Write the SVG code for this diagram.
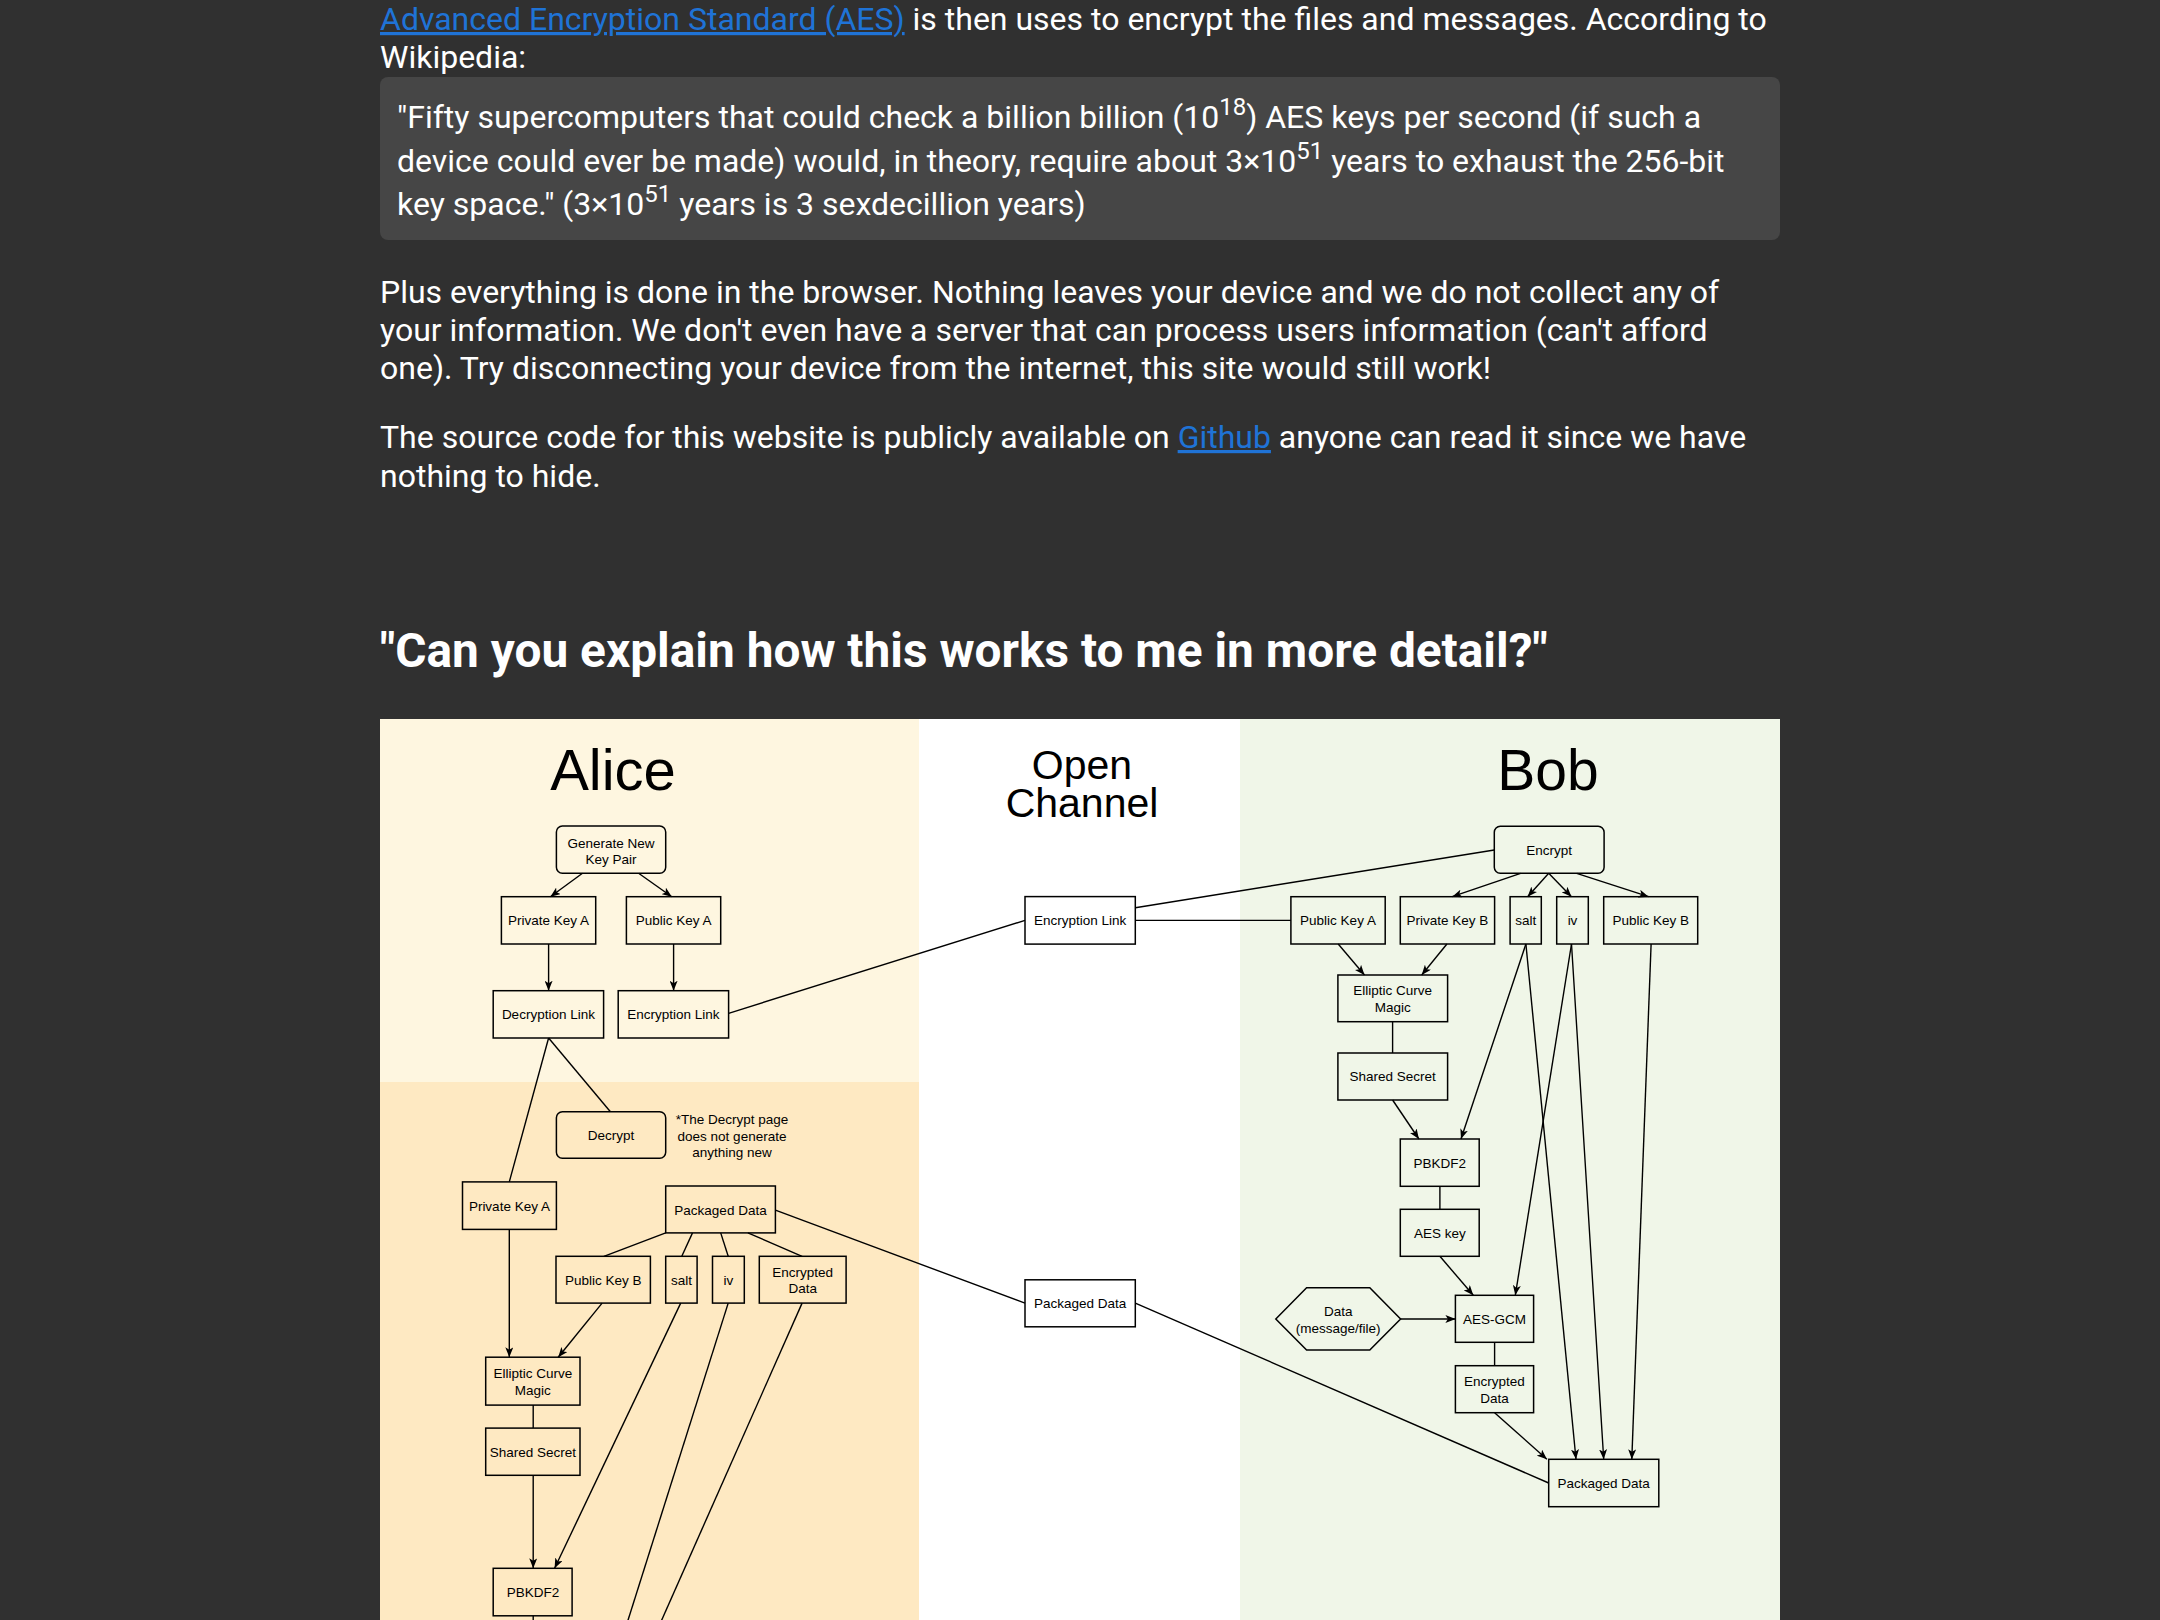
<svg xmlns="http://www.w3.org/2000/svg" width="2160" height="1620" viewBox="0 0 2160 1620">
<style>
.page{font-family:Roboto,"Liberation Sans",sans-serif;fill:#ffffff;font-size:32px}
.link{fill:#1f73d6;text-decoration:underline}
.sup{font-size:24px}
.h{font-family:Roboto,"Liberation Sans",sans-serif;font-weight:bold;font-size:47.8px;fill:#ffffff}
.box{fill:none;stroke:#000;stroke-width:1.5}
.t{font-family:"Liberation Sans",Arial,sans-serif;font-size:13.5px;fill:#000;text-anchor:middle}
.title{font-family:"Liberation Sans",Arial,sans-serif;fill:#000;text-anchor:middle}
.e{fill:none;stroke:#000;stroke-width:1.4}
.a{marker-end:url(#arr)}
</style>
<defs>
<marker id="arr" viewBox="0 0 10 8" refX="10" refY="4" markerWidth="10" markerHeight="8" orient="auto" markerUnits="userSpaceOnUse">
<path d="M0,0 L10,4 L0,8 L2.5,4 z" fill="#000"/>
</marker>
</defs>
<rect x="0" y="0" width="2160" height="1620" fill="#303030"/>

<!-- page text -->
<g id="intro">
<text class="page" x="380" y="30"><tspan class="link">Advanced Encryption Standard (AES)</tspan> is then uses to encrypt the files and messages. According to</text>
<text class="page" x="380" y="68">Wikipedia:</text>
<rect x="380" y="77" width="1400" height="163" rx="8" fill="#464646"/>
<text class="page" x="397" y="128">"Fifty supercomputers that could check a billion billion (10<tspan class="sup" dy="-13">18</tspan><tspan dy="13">) AES keys per second (if such a</tspan></text>
<text class="page" x="397" y="171.5">device could ever be made) would, in theory, require about 3×10<tspan class="sup" dy="-13">51</tspan><tspan dy="13"> years to exhaust the 256-bit</tspan></text>
<text class="page" x="397" y="215">key space." (3×10<tspan class="sup" dy="-13">51</tspan><tspan dy="13"> years is 3 sexdecillion years)</tspan></text>
<text class="page" x="380" y="302.5">Plus everything is done in the browser. Nothing leaves your device and we do not collect any of</text>
<text class="page" x="380" y="340.5">your information. We don't even have a server that can process users information (can't afford</text>
<text class="page" x="380" y="378.5">one). Try disconnecting your device from the internet, this site would still work!</text>
<text class="page" x="380" y="448">The source code for this website is publicly available on <tspan class="link">Github</tspan> anyone can read it since we have</text>
<text class="page" x="380" y="486.5">nothing to hide.</text>
<text class="h" x="380" y="666.5">"Can you explain how this works to me in more detail?"</text>
</g>

<!-- diagram backgrounds -->
<g id="lanes">
<rect x="380" y="719" width="539" height="363" fill="#fef6e0"/>
<rect x="380" y="1082" width="539" height="560" fill="#fee9c2"/>
<rect x="919" y="719" width="321" height="920" fill="#ffffff"/>
<rect x="1240" y="719" width="540" height="920" fill="#f0f6e8"/>
<text class="title" x="613" y="790" font-size="58">Alice</text>
<text class="title" x="1082" y="779" font-size="41"><tspan x="1082" y="779">Open</tspan><tspan x="1082" y="817">Channel</tspan></text>
<text class="title" x="1548" y="790" font-size="57">Bob</text>
</g>

<!-- connectors -->
<g id="connectors">
<path class="e a" d="M582.5,873.3 L550.4,896.7"/>
<path class="e a" d="M638.6,873.3 L671.8,896.7"/>
<path class="e a" d="M548.6,944 L548.6,990.7"/>
<path class="e a" d="M673.6,944 L673.6,990.7"/>
<path class="e" d="M728.6,1013.3 L1025,920.4"/>
<path class="e" d="M548.6,1038 L610.4,1111.7"/>
<path class="e" d="M548.6,1038 L509.3,1181.9"/>
<path class="e a" d="M509.3,1229.4 L509.3,1357.2"/>
<path class="e" d="M665.7,1232.9 L603.9,1256.3"/>
<path class="e" d="M692.5,1232.9 L681.8,1256.3"/>
<path class="e" d="M720.7,1232.9 L728.2,1256.3"/>
<path class="e" d="M747.9,1232.9 L802.1,1256.3"/>
<path class="e" d="M775.4,1210.2 L1025,1303.1"/>
<path class="e a" d="M602.1,1303.1 L558.2,1357.2"/>
<path class="e" d="M533.2,1405.1 L533.2,1428.1"/>
<path class="e a" d="M533.2,1475.3 L533.2,1568.3"/>
<path class="e a" d="M680.7,1303.1 L554.6,1568.3"/>
<path class="e" d="M728.2,1303.1 L602.8,1700"/>
<path class="e" d="M802.1,1303.1 L626.3,1700"/>
<path class="e" d="M533.2,1615.8 L533.2,1660"/>

<path class="e" d="M1135.3,907.7 L1494.3,850"/>
<path class="e" d="M1135.3,920.4 L1290.9,920.4"/>
<path class="e" d="M1135.3,1303.1 L1548.7,1483"/>

<path class="e a" d="M1520.6,873.3 L1452.2,896.7"/>
<path class="e a" d="M1548.7,873.3 L1527.6,896.7"/>
<path class="e a" d="M1548.7,873.3 L1571.5,896.7"/>
<path class="e a" d="M1576.7,873.3 L1648.6,896.7"/>
<path class="e a" d="M1338.2,944 L1364.5,975"/>
<path class="e a" d="M1446.9,944 L1421.7,975"/>
<path class="e" d="M1392.6,1021.7 L1392.6,1053"/>
<path class="e a" d="M1392.6,1100 L1418.9,1139"/>
<path class="e a" d="M1525.9,944 L1461,1139"/>
<path class="e a" d="M1525.9,944 L1576,1459.3"/>
<path class="e a" d="M1571.5,944 L1515.3,1295.3"/>
<path class="e a" d="M1571.5,944 L1603.7,1459.3"/>
<path class="e a" d="M1651.1,944 L1631.8,1459.3"/>
<path class="e" d="M1439.9,1186.3 L1439.9,1209.3"/>
<path class="e a" d="M1439.9,1256.3 L1473.3,1295.3"/>
<path class="e a" d="M1400.6,1319 L1455.4,1319"/>
<path class="e" d="M1494.6,1342.3 L1494.6,1365.7"/>
<path class="e a" d="M1494.6,1412.7 L1546.9,1459.3"/>
</g>

<!-- Alice nodes -->
<g id="alice-generate"><rect class="box" x="556.4" y="826" width="109.3" height="47.3" rx="6"/><text class="t" x="611" y="847.5">Generate New</text><text class="t" x="611" y="863.5">Key Pair</text></g>
<g id="alice-private-key-a"><rect class="box" x="501.4" y="896.7" width="94.3" height="47.3"/><text class="t" x="548.6" y="925">Private Key A</text></g>
<g id="alice-public-key-a"><rect class="box" x="626.4" y="896.7" width="94.3" height="47.3"/><text class="t" x="673.6" y="925">Public Key A</text></g>
<g id="alice-decryption-link"><rect class="box" x="493.2" y="990.7" width="110.4" height="47.3"/><text class="t" x="548.4" y="1019">Decryption Link</text></g>
<g id="alice-encryption-link"><rect class="box" x="618.2" y="990.7" width="110.4" height="47.3"/><text class="t" x="673.4" y="1019">Encryption Link</text></g>
<g id="alice-decrypt"><rect class="box" x="556.4" y="1111.7" width="109.3" height="46.6" rx="6"/><text class="t" x="611" y="1139.5">Decrypt</text></g>
<g id="alice-note"><text class="t" x="732" y="1124">*The Decrypt page</text><text class="t" x="732" y="1140.5">does not generate</text><text class="t" x="732" y="1157">anything new</text></g>
<g id="alice-private-key-a2"><rect class="box" x="462.5" y="1181.9" width="93.9" height="47.5"/><text class="t" x="509.4" y="1210.5">Private Key A</text></g>
<g id="alice-packaged-data"><rect class="box" x="665.7" y="1186" width="109.7" height="46.9"/><text class="t" x="720.5" y="1214.5">Packaged Data</text></g>
<g id="alice-public-key-b"><rect class="box" x="556" y="1256.3" width="94.4" height="46.8"/><text class="t" x="603.2" y="1284.5">Public Key B</text></g>
<g id="alice-salt"><rect class="box" x="665.7" y="1256.3" width="31.4" height="46.8"/><text class="t" x="681.4" y="1284.5">salt</text></g>
<g id="alice-iv"><rect class="box" x="712.5" y="1256.3" width="31.8" height="46.8"/><text class="t" x="728.4" y="1284.5">iv</text></g>
<g id="alice-encrypted-data"><rect class="box" x="759.3" y="1256.3" width="86.8" height="46.8"/><text class="t" x="802.7" y="1276.5">Encrypted</text><text class="t" x="802.7" y="1292.5">Data</text></g>
<g id="alice-ecm"><rect class="box" x="485.7" y="1357.2" width="94.3" height="47.9"/><text class="t" x="532.8" y="1378">Elliptic Curve</text><text class="t" x="532.8" y="1394.5">Magic</text></g>
<g id="alice-shared-secret"><rect class="box" x="485.7" y="1428.1" width="94.3" height="47.2"/><text class="t" x="532.8" y="1456.5">Shared Secret</text></g>
<g id="alice-pbkdf2"><rect class="box" x="493.2" y="1568.3" width="78.9" height="47.5"/><text class="t" x="533" y="1597">PBKDF2</text></g>

<!-- Open channel nodes -->
<g id="oc-encryption-link"><rect class="box" x="1025" y="896.6" width="110.3" height="47.5"/><text class="t" x="1080.2" y="925">Encryption Link</text></g>
<g id="oc-packaged-data"><rect class="box" x="1025" y="1279.8" width="110.3" height="47"/><text class="t" x="1080.2" y="1308">Packaged Data</text></g>

<!-- Bob nodes -->
<g id="bob-encrypt"><rect class="box" x="1494.3" y="826.3" width="109.8" height="47" rx="6"/><text class="t" x="1549.2" y="854.5">Encrypt</text></g>
<g id="bob-public-key-a"><rect class="box" x="1290.9" y="896.7" width="94.3" height="47.3"/><text class="t" x="1338" y="925">Public Key A</text></g>
<g id="bob-private-key-b"><rect class="box" x="1400.3" y="896.7" width="94.3" height="47.3"/><text class="t" x="1447.4" y="925">Private Key B</text></g>
<g id="bob-salt"><rect class="box" x="1510.1" y="896.7" width="31.2" height="47.3"/><text class="t" x="1525.7" y="925">salt</text></g>
<g id="bob-iv"><rect class="box" x="1556.7" y="896.7" width="31.6" height="47.3"/><text class="t" x="1572.5" y="925">iv</text></g>
<g id="bob-public-key-b"><rect class="box" x="1603.7" y="896.7" width="94" height="47.3"/><text class="t" x="1650.7" y="925">Public Key B</text></g>
<g id="bob-ecm"><rect class="box" x="1337.9" y="975" width="109.7" height="46.7"/><text class="t" x="1392.7" y="995">Elliptic Curve</text><text class="t" x="1392.7" y="1011.5">Magic</text></g>
<g id="bob-shared-secret"><rect class="box" x="1337.9" y="1053" width="109.7" height="47"/><text class="t" x="1392.7" y="1081">Shared Secret</text></g>
<g id="bob-pbkdf2"><rect class="box" x="1400.3" y="1139" width="78.9" height="47.3"/><text class="t" x="1439.8" y="1167.5">PBKDF2</text></g>
<g id="bob-aes-key"><rect class="box" x="1400.3" y="1209.3" width="78.9" height="47"/><text class="t" x="1439.8" y="1237.5">AES key</text></g>
<g id="bob-data"><polygon class="box" points="1275.8,1319 1306.6,1287.7 1369.8,1287.7 1400.6,1319 1369.8,1350 1306.6,1350"/><text class="t" x="1338.2" y="1316">Data</text><text class="t" x="1338.2" y="1332.5">(message/file)</text></g>
<g id="bob-aes-gcm"><rect class="box" x="1455.4" y="1295.3" width="78.2" height="47"/><text class="t" x="1494.5" y="1323.5">AES-GCM</text></g>
<g id="bob-encrypted-data"><rect class="box" x="1455.4" y="1365.7" width="78.2" height="47"/><text class="t" x="1494.5" y="1386">Encrypted</text><text class="t" x="1494.5" y="1402.5">Data</text></g>
<g id="bob-packaged-data"><rect class="box" x="1548.7" y="1459.3" width="110.1" height="47.4"/><text class="t" x="1603.7" y="1487.5">Packaged Data</text></g>
</svg>
